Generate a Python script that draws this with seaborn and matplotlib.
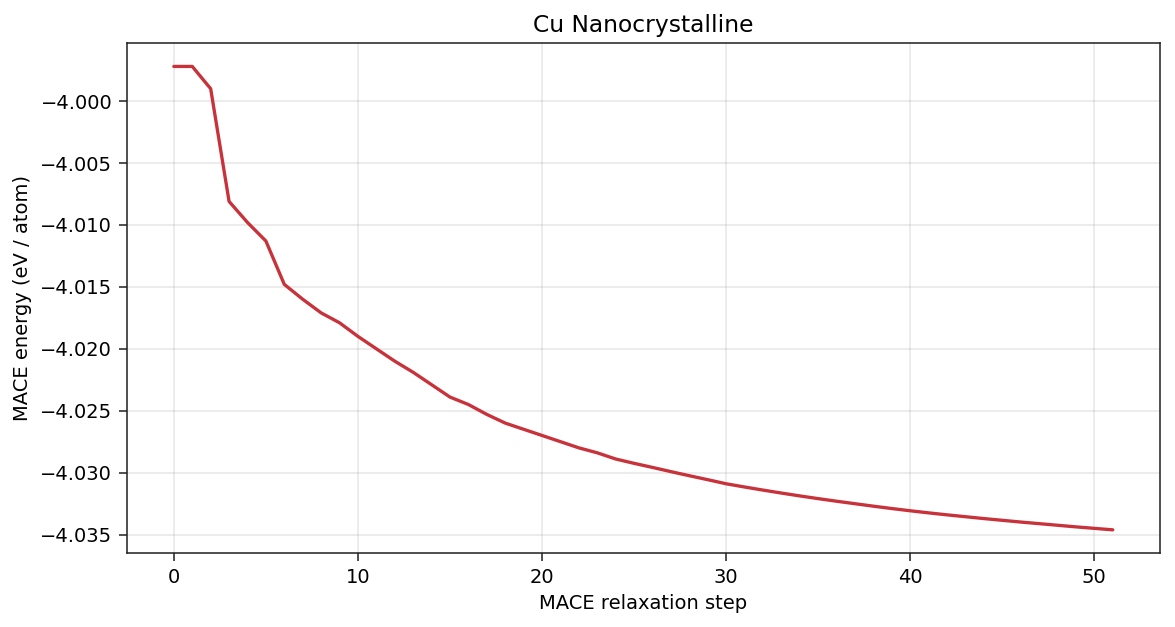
import numpy as np
import pandas as pd
import seaborn as sns
import matplotlib.pyplot as plt
from matplotlib.ticker import FuncFormatter

# MACE relaxation energies (eV / atom)
steps = list(range(52))
energy = [
    -3.99720, -3.99720, -3.99900, -4.00810, -4.00980, -4.01130, -4.01480, -4.01600,
    -4.01710, -4.01790, -4.01900, -4.02000, -4.02100, -4.02190, -4.02290, -4.02390,
    -4.02450, -4.02530, -4.02600, -4.02650, -4.02700, -4.02750, -4.02800, -4.02840,
    -4.02890, -4.02925, -4.02958, -4.02992, -4.03025, -4.03057, -4.03090, -4.03116,
    -4.03141, -4.03165, -4.03188, -4.03210, -4.03231, -4.03251, -4.03271, -4.03290,
    -4.03308, -4.03325, -4.03341, -4.03356, -4.03371, -4.03385, -4.03399, -4.03412,
    -4.03425, -4.03438, -4.03450, -4.03462,
]


def main():
    sns.set_style("ticks")
    plt.rcParams['font.family'] = ['DejaVu Sans']
    plt.rcParams['text.color'] = 'black'
    plt.rcParams['axes.labelcolor'] = 'black'
    plt.rcParams['xtick.color'] = 'black'
    plt.rcParams['ytick.color'] = 'black'
    df = pd.DataFrame({'step': steps, 'energy': energy})

    dpi = 140
    fig, ax = plt.subplots(figsize=(1175 / dpi, 627 / dpi), dpi=dpi)
    fig.subplots_adjust(left=0.108, right=0.987, top=0.931, bottom=0.118)

    sns.lineplot(data=df, x='step', y='energy', ax=ax, color='#c8323a', linewidth=1.7)

    ax.set_title('Cu Nanocrystalline', fontsize=12)
    ax.set_xlabel('MACE relaxation step', fontsize=10)
    ax.set_ylabel('MACE energy (eV / atom)', fontsize=10)
    ax.tick_params(labelsize=10, color='#222222', length=4)
    ax.grid(True, color='#b0b0b0', alpha=0.3, linewidth=0.8)
    for s in ax.spines.values():
        s.set_visible(True)
        s.set_color('#222222')
    ax.yaxis.set_major_formatter(FuncFormatter(lambda v, _: f'{v:.3f}'.replace('-', '\u2212')))

    fig.savefig('out.png', dpi=dpi)


if __name__ == "__main__":
    main()
